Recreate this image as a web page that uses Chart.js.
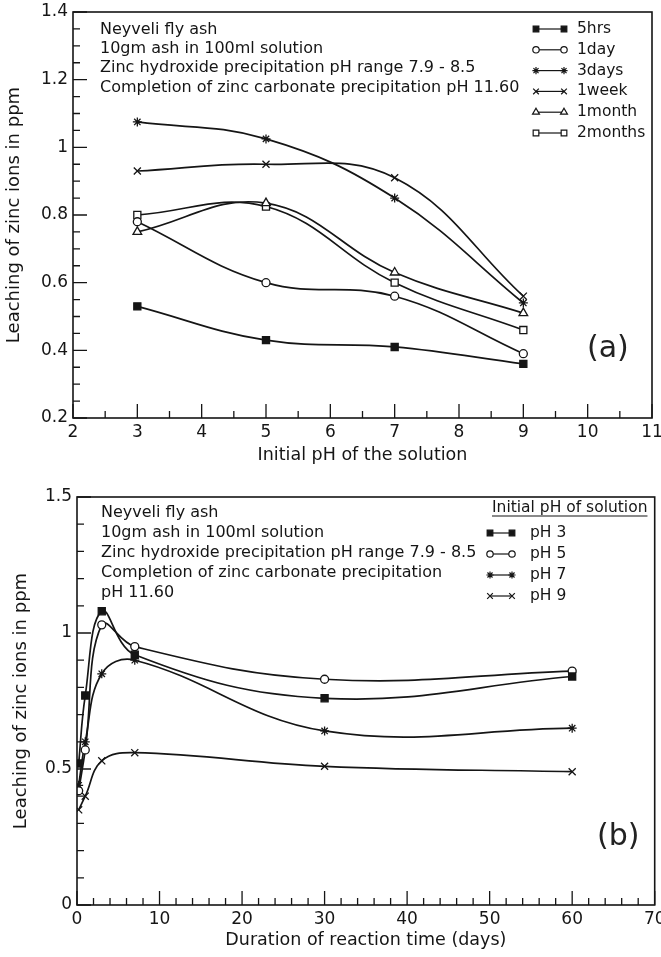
<!DOCTYPE html>
<html>
<head>
<meta charset="utf-8">
<script src="https://cdn.jsdelivr.net/npm/chart.js@4/dist/chart.umd.min.js"></script>
<style>
  html, body { margin: 0; padding: 0; background: #fff; }
  #wrapA { position: absolute; left: 0; top: 0; width: 661px; height: 475px; }
  #wrapB { position: absolute; left: 0; top: 475px; width: 661px; height: 482px; }
</style>
</head>
<body>
<div id="wrapA"><canvas id="chartA"></canvas></div>
<div id="wrapB"><canvas id="chartB"></canvas></div>
<script>
// (a) leaching vs initial pH, one curve per contact time
const phA = [3, 5, 7, 9];
const hrs5 = [0.53, 0.43, 0.41, 0.36];
const day1 = [0.78, 0.60, 0.56, 0.39];
const days3 = [1.075, 1.025, 0.85, 0.54];
const week1 = [0.93, 0.95, 0.91, 0.56];
const month1 = [0.75, 0.835, 0.63, 0.51];
const months2 = [0.80, 0.825, 0.60, 0.46];
const seriesA = [hrs5, day1, days3, week1, month1, months2];
const namesA = ["5hrs", "1day", "3days", "1week", "1month", "2months"];
const xTicksA = [2, 3, 4, 5, 6, 7, 8, 9, 10, 11];
const yTicksA = [0.2, 0.4, 0.6, 0.8, 1, 1.2, 1.4];
const notesA = [
  "Neyveli fly ash",
  "10gm ash in 100ml solution",
  "Zinc hydroxide precipitation pH range 7.9 - 8.5",
  "Completion of zinc carbonate precipitation pH 11.60",
];

// (b) leaching vs reaction time, one curve per initial pH
const daysB = [0.2, 1, 3, 7, 30, 60];
const ph3 = [0.52, 0.77, 1.08, 0.92, 0.76, 0.84];
const ph5 = [0.42, 0.57, 1.03, 0.95, 0.83, 0.86];
const ph7 = [0.44, 0.60, 0.85, 0.90, 0.64, 0.65];
const ph9 = [0.35, 0.40, 0.53, 0.56, 0.51, 0.49];
const seriesB = [ph3, ph5, ph7, ph9];
const namesB = ["pH 3", "pH 5", "pH 7", "pH 9"];
const xTicksB = [0, 10, 20, 30, 40, 50, 60, 70];
const yTicksB = [0, 0.5, 1, 1.5];
const notesB = [
  "Neyveli fly ash",
  "10gm ash in 100ml solution",
  "Zinc hydroxide precipitation pH range 7.9 - 8.5",
  "Completion of zinc carbonate precipitation",
  "pH 11.60",
];

const INK = "#151515";
const FONT = '"DejaVu Sans", "Liberation Sans", sans-serif';

// marker per series, same order in both panels
const MARKS = [
  { style: "rect", fill: INK, r: 5 },
  { style: "circle", fill: "#fff", r: 4 },
  { style: "star", fill: "#fff", r: 4.5 },
  { style: "crossRot", fill: "#fff", r: 5 },
  { style: "triangle", fill: "#fff", r: 5 },
  { style: "rect", fill: "#fff", r: 5 },
];

function makeSets(xs, series, names) {
  return series.map((ys, i) => ({
    label: names[i],
    data: xs.map((x, j) => ({ x, y: ys[j] })),
    borderColor: INK,
    borderWidth: 1.7,
    tension: 0.4,
    fill: false,
    pointStyle: MARKS[i].style,
    pointRadius: MARKS[i].r,
    pointBackgroundColor: MARKS[i].fill,
    pointBorderColor: INK,
    pointBorderWidth: 1.3,
  }));
}

// frame, inward ticks, notes, hand-style legend and panel tag
const decor = {
  id: "decor",
  afterDraw(chart, args, o) {
    const { ctx, chartArea: a, scales } = chart;
    const x = scales.x, y = scales.y;
    ctx.save();
    ctx.strokeStyle = INK;
    ctx.lineWidth = 1.6;
    ctx.strokeRect(a.left, a.top, a.right - a.left, a.bottom - a.top);

    ctx.lineWidth = 1.3;
    ctx.beginPath();
    const nx = Math.round((x.max - x.min) / o.minorX);
    for (let i = 0; i <= nx; i++) {
      const v = x.min + i * o.minorX;
      const px = x.getPixelForValue(v);
      const len = i % o.perMajorX === 0 ? 14 : 7;
      ctx.moveTo(px, a.bottom);
      ctx.lineTo(px, a.bottom - len);
    }
    const ny = Math.round((y.max - y.min) / o.minorY);
    for (let i = 0; i <= ny; i++) {
      const v = y.min + i * o.minorY;
      const py = y.getPixelForValue(v);
      const len = i % o.perMajorY === 0 ? 14 : 7;
      ctx.moveTo(a.left, py);
      ctx.lineTo(a.left + len, py);
    }
    ctx.stroke();

    ctx.fillStyle = INK;
    ctx.textBaseline = "middle";
    ctx.textAlign = "left";
    ctx.font = "16px " + FONT;
    o.notes.forEach((t, i) => ctx.fillText(t, o.noteX, o.noteY + i * o.noteDy));

    if (o.legTitle) {
      ctx.font = "15.5px " + FONT;
      ctx.fillText(o.legTitle, o.legTitleX, o.legTitleY);
      const w = ctx.measureText(o.legTitle).width;
      ctx.beginPath();
      ctx.lineWidth = 1.2;
      ctx.moveTo(o.legTitleX, o.legTitleY + 8);
      ctx.lineTo(o.legTitleX + w, o.legTitleY + 8);
      ctx.stroke();
    }

    ctx.font = "15.5px " + FONT;
    chart.data.datasets.forEach((ds, i) => {
      const ly = o.legY + i * o.legDy;
      ctx.beginPath();
      ctx.lineWidth = 1.2;
      ctx.moveTo(o.legX1, ly);
      ctx.lineTo(o.legX2, ly);
      ctx.stroke();
      const m = MARKS[i];
      ctx.fillStyle = m.fill;
      ctx.lineWidth = 1.2;
      const opt = { pointStyle: m.style, radius: m.r * 0.8, rotation: 0, borderWidth: 1.2 };
      Chart.helpers.drawPoint(ctx, opt, o.legX1, ly);
      Chart.helpers.drawPoint(ctx, opt, o.legX2, ly);
      ctx.fillStyle = INK;
      ctx.fillText(ds.label, o.legTextX, ly);
    });

    ctx.font = "30px " + FONT;
    ctx.fillStyle = "#222";
    ctx.fillText(o.tag, o.tagX, o.tagY);
    ctx.restore();
  },
};

function makeChart(id, cfg) {
  return new Chart(document.getElementById(id), {
    type: "line",
    data: { datasets: makeSets(cfg.xs, cfg.series, cfg.names) },
    options: {
      responsive: true,
      maintainAspectRatio: false,
      animation: false,
      layout: { padding: cfg.pad },
      plugins: { legend: { display: false }, tooltip: { enabled: false }, decor: cfg.decor },
      scales: {
        x: {
          type: "linear",
          min: cfg.xTicks[0],
          max: cfg.xTicks[cfg.xTicks.length - 1],
          grid: { display: false, drawTicks: false },
          border: { display: false },
          afterBuildTicks: (s) => { s.ticks = cfg.xTicks.map((v) => ({ value: v })); },
          afterFit: (s) => { s.height = cfg.xHeight; s.paddingLeft = 0; s.paddingRight = 0; },
          ticks: { color: INK, font: { family: FONT, size: 17 }, padding: 4, maxRotation: 0, callback: (v) => String(v) },
          title: { display: true, text: cfg.xTitle, color: INK, font: { family: FONT, size: 17.5 }, padding: { bottom: cfg.xTitlePad } },
        },
        y: {
          min: cfg.yTicks[0],
          max: cfg.yTicks[cfg.yTicks.length - 1],
          grid: { display: false, drawTicks: false },
          border: { display: false },
          afterBuildTicks: (s) => { s.ticks = cfg.yTicks.map((v) => ({ value: v })); },
          afterFit: (s) => { s.width = cfg.yWidth; s.paddingTop = 0; s.paddingBottom = 0; },
          ticks: { color: INK, font: { family: FONT, size: 17 }, padding: 5, callback: (v) => String(v) },
          title: { display: true, text: "Leaching of zinc ions in ppm", color: INK, font: { family: FONT, size: 18 }, padding: { top: cfg.yTitlePad } },
        },
      },
    },
    plugins: [decor],
  });
}

makeChart("chartA", {
  xs: phA, series: seriesA, names: namesA, xTicks: xTicksA, yTicks: yTicksA,
  pad: { top: 12, right: 9, left: 0, bottom: 0 },
  xHeight: 57, yWidth: 73, xTitlePad: 9, yTitlePad: 4,
  xTitle: "Initial pH of the solution",
  decor: {
    minorX: 0.5, perMajorX: 2, minorY: 0.05, perMajorY: 4,
    notes: notesA, noteX: 100, noteY: 29.5, noteDy: 19.3,
    legX1: 536, legX2: 564, legTextX: 577, legY: 29, legDy: 20.8,
    tag: "(a)", tagX: 587, tagY: 349,
  },
});

makeChart("chartB", {
  xs: daysB, series: seriesB, names: namesB, xTicks: xTicksB, yTicks: yTicksB,
  pad: { top: 22, right: 5, left: 0, bottom: 0 },
  xHeight: 52, yWidth: 77, xTitlePad: 6, yTitlePad: 11,
  xTitle: "Duration of reaction time (days)",
  decor: {
    minorX: 2, perMajorX: 5, minorY: 0.1, perMajorY: 5,
    notes: notesB, noteX: 101, noteY: 38, noteDy: 20,
    legTitle: "Initial pH of solution", legTitleX: 492, legTitleY: 33,
    legX1: 490, legX2: 512, legTextX: 530, legY: 58, legDy: 21,
    tag: "(b)", tagX: 597, tagY: 362,
  },
});
</script>
</body>
</html>
